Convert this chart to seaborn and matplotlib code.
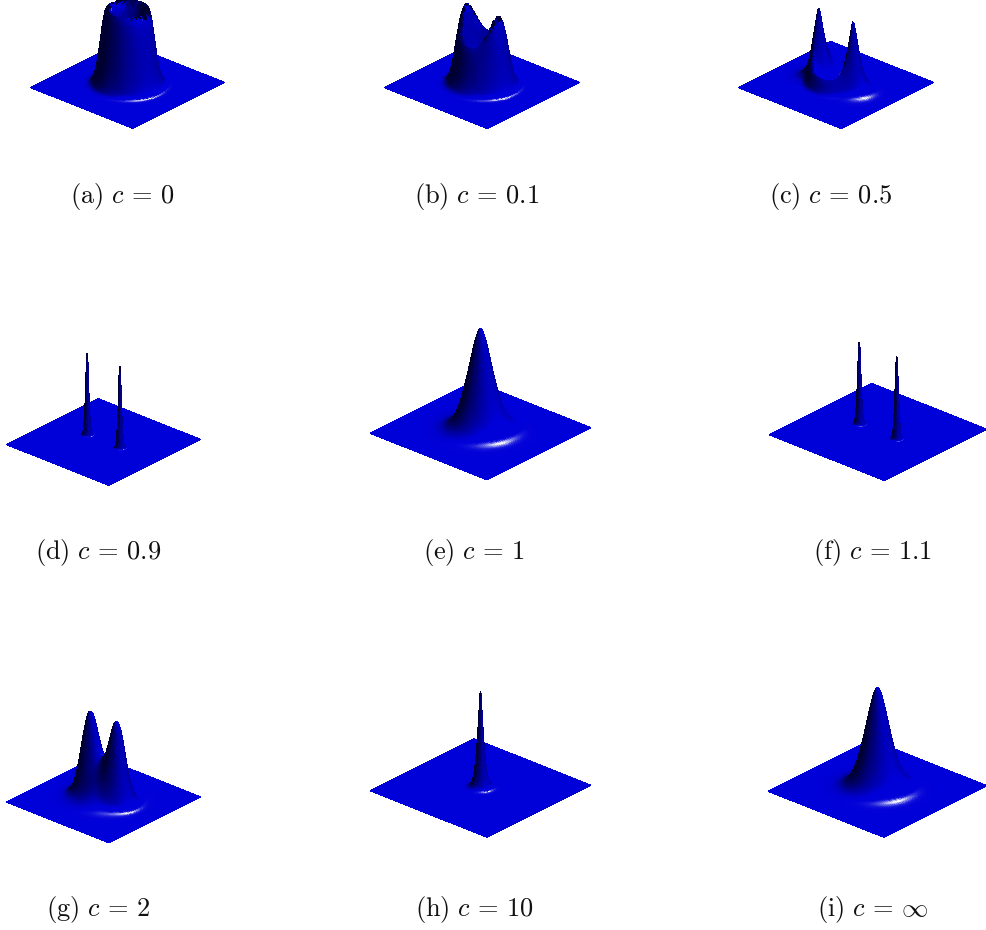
import numpy as np
import seaborn as sns
import matplotlib
matplotlib.use("Agg")
import matplotlib.pyplot as plt
from mpl_toolkits.mplot3d import proj3d

sns.set_theme(style="white")
plt.rcParams["mathtext.fontset"] = "cm"

# ---------- values, one entry per panel ----------
PANEL_TAGS = ["a", "b", "c", "d", "e", "f", "g", "h", "i"]
C_LABELS = ["0", "0.1", "0.5", "0.9", "1", "1.1", "2", "10", r"\infty"]

RING_HEIGHT = [1.24, 0.72, 0.22, 0, 0, 0, 0.60, 0, 0]
RING_BOOST = [0, 0.50, 0, 0, 0, 0, 0, 0, 0]
RING_RADIUS = [0.30, 0.30, 0.34, 0.3, 0.3, 0.3, 0.0, 0.3, 0.3]
RING_OUTER = [0.13, 0.13, 0.08, 0.1, 0.1, 0.1, 0.30, 0.1, 0.1]
RING_INNER = [0.08, 0.08, 0.10, 0.1, 0.1, 0.1, 0.1, 0.1, 0.1]

PEAK_COUNT = [0, 0, 2, 2, 1, 2, 2, 1, 1]
PEAK_HEIGHT = [0, 0, 0.93, 1.33, 1.46, 1.20, 1.08, 1.38, 1.47]
PEAK_OFFSET = [0, 0, 0.33, 0.32, 0, 0.328, 0.275, 0, 0]
PEAK_WIDTH = [1, 1, 0.12, 0.028, 0.225, 0.028, 0.16, 0.05, 0.225]
PEAK_POWER = [2, 2, 1.3, 1.6, 1.7, 1.6, 2.0, 1.3, 1.7]

# ---------- layout of the page, in pixels ----------
W, H = 986, 930
PLANE_LEFT = [(31, 87), (385, 87), (739, 87), (7, 444), (371, 433), (770, 433), (7, 802), (371, 790), (769, 790)]
PLANE_RIGHT = [(224, 83), (579, 83), (933, 83), (200, 440), (590, 428), (986, 431), (200, 797), (590, 786), (986, 787)]
LABEL_X = [122, 476.5, 831, 98, 473.5, 872.5, 98.5, 474.5, 872.5]
LABEL_Y = [197, 197, 197, 553, 553, 553, 909, 909, 909]
ZMAX = 3.0

ramp = sns.blend_palette(["#000030", "#000088", "#0000d8"], as_cmap=True)


def tilted(azimuth_deg, tilt_deg):
    a, t = np.radians(azimuth_deg), np.radians(tilt_deg)
    return np.array([np.sin(t) * np.cos(a), np.sin(t) * np.sin(a), np.cos(t)])


LIGHT = tilted(-5, 35)
HALF = tilted(-20, 19)
SHINE = 90


def axis_grid(centres):
    parts = [np.linspace(-1, 1, 111)]
    steps = np.geomspace(0.002, 0.22, 34)
    for c in centres:
        parts += [np.array([c]), c - steps, c + steps]
    g = np.unique(np.round(np.concatenate(parts), 5))
    return g[(g >= -1) & (g <= 1)]


def surface(i):
    count, off = PEAK_COUNT[i], PEAK_OFFSET[i]
    centres = [-off, off] if count == 2 else [0.0]
    x = axis_grid(centres)
    y = axis_grid([0.0])
    X, Y = np.meshgrid(x, y)
    Z = np.zeros_like(X)
    if RING_HEIGHT[i] > 0:
        r = np.hypot(X, Y)
        th = np.arctan2(Y, X)
        d = r - RING_RADIUS[i]
        wall = np.where(d > 0, np.exp(-(d / RING_OUTER[i]) ** 2), np.exp(d / RING_INNER[i]))
        Z += wall * (RING_HEIGHT[i] + RING_BOOST[i] * np.abs(np.cos(th)) ** 4)
    if count > 0:
        for c in centres:
            rho = np.hypot(X - c, Y)
            Z += PEAK_HEIGHT[i] * np.exp(-((rho / PEAK_WIDTH[i]) ** PEAK_POWER[i]))
    return X, Y, Z, x, y


def colours(Z, x, y):
    Zy, Zx = np.gradient(Z, y, x)
    n = np.sqrt(Zx ** 2 + Zy ** 2 + 1)
    Nx, Ny, Nz = -Zx / n, -Zy / n, 1 / n
    diff = Nx * LIGHT[0] + Ny * LIGHT[1] + Nz * LIGHT[2]
    t = np.clip(diff / LIGHT[2], 0, 1) ** 1.35
    base = ramp(t)
    flat = HALF[2] ** SHINE
    spec = np.clip(Nx * HALF[0] + Ny * HALF[1] + Nz * HALF[2], 0, 1) ** SHINE
    spec = np.clip((spec - flat) / (1 - flat), 0, 1)
    out = base.copy()
    for k in range(3):
        out[..., k] = base[..., k] * (1 - spec) + spec
    return out


def fit(ax, left, right):
    """Scale and move the square 3D axes so the plane's side corners land on the given pixels."""
    def corners():
        ax.apply_aspect()
        xs, ys, _ = proj3d.proj_transform(np.array([-1.0, 1.0]), np.array([-1.0, 1.0]), np.zeros(2), ax.get_proj())
        return ax.transData.transform(np.c_[xs, ys])
    p = corners()
    size = ax.get_position().width * W * (right[0] - left[0]) / (p[1, 0] - p[0, 0])
    ax.set_position([0.3, 0.3, size / W, size / H])
    p = corners()
    mid = p.mean(axis=0)
    tx, ty = (left[0] + right[0]) / 2, H - (left[1] + right[1]) / 2
    pos = ax.get_position()
    ax.set_position([pos.x0 + (tx - mid[0]) / W, pos.y0 + (ty - mid[1]) / H, size / W, size / H])


fig = plt.figure(figsize=(W / 100, H / 100), dpi=100, facecolor="white")
for i, tag in enumerate(PANEL_TAGS):
    ax = fig.add_axes([0.3, 0.3, 0.3, 0.3 * W / H], projection="3d", proj_type="ortho")
    X, Y, Z, x, y = surface(i)
    ax.plot_surface(X, Y, Z, facecolors=colours(Z, x, y), rstride=1, cstride=1,
                    shade=False, linewidth=0.5, antialiased=False)
    ax.set_xlim(-1, 1)
    ax.set_ylim(-1, 1)
    ax.set_zlim(0, ZMAX)
    ax.set_box_aspect((2, 2, ZMAX))
    ax.view_init(elev=26.5, azim=-48.3)
    ax.set_axis_off()
    fit(ax, PLANE_LEFT[i], PLANE_RIGHT[i])
    fig.text(LABEL_X[i] / W, 1 - LABEL_Y[i] / H, rf"$\mathrm{{({tag})}}\ c\,=\,{C_LABELS[i]}$",
             ha="center", va="center", fontsize=19, color="#111111")

fig.savefig("out.png", dpi=100)
